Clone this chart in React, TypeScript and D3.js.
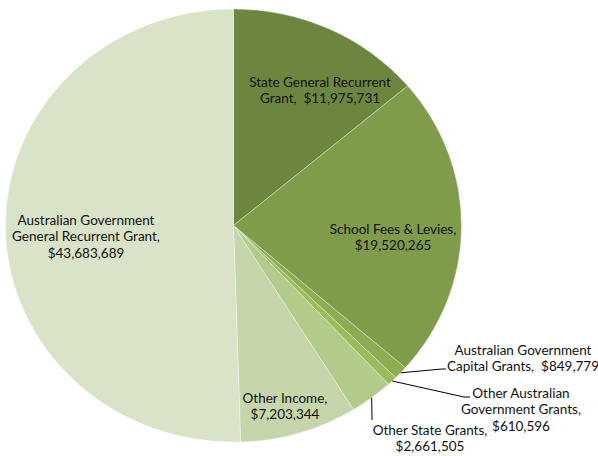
import React, { useRef, useEffect } from 'react';
import * as d3 from 'd3';

// slices, clockwise from 12 o'clock
const categories = [
  'State General Recurrent Grant',
  'School Fees & Levies',
  'Australian Government Capital Grants',
  'Other Australian Government Grants',
  'Other State Grants',
  'Other Income',
  'Australian Government General Recurrent Grant',
];
const values = [11975731, 19520265, 849779, 610596, 2661505, 7203344, 43683689];
const colors = ['#6c873d', '#7f9c4a', '#8cad52', '#9bbc5a', '#b2cb8b', '#c5d6aa', '#d8e3c7'];

// label text lines (value appended) and where they sit
const labelLines = [
  ['State General Recurrent', 'Grant,  $'],
  ['School Fees & Levies,', '$'],
  ['Australian Government', 'Capital Grants,  $'],
  ['Other Australian', 'Government Grants,', '$'],
  ['Other State Grants,', '$'],
  ['Other Income,', '$'],
  ['Australian Government', 'General Recurrent Grant,', '$'],
];
const labelPos = [
  [320, 82], [393, 229], [523, 350], [521, 393], [430, 430], [285, 398], [86, 220],
];
// leader lines: [elbow x, elbow y, end x] (null = label sits inside slice)
const leaders: (number[] | null)[] = [
  null, null, [442, 369, 446], [464, 397, 470], [372, 420, 372], null, null,
];

const W = 598, H = 456;
const cx = 233.5, cy = 225.5, rx = 228, ry = 216.6;

const App = () => {
  const svgRef = useRef<SVGSVGElement>(null);

  useEffect(() => {
    const svg = d3.select(svgRef.current);
    svg.selectAll('*').remove();

    const fmt = d3.format(',');
    const pie = d3.pie<number>().sort(null)(values);
    const arc = d3.arc<d3.PieArcDatum<number>>().innerRadius(0).outerRadius(rx);

    const g = svg.append('g')
      .attr('transform', `translate(${cx},${cy}) scale(1,${ry / rx})`);

    g.selectAll('path')
      .data(pie)
      .enter().append('path')
      .attr('d', arc)
      .attr('fill', (d, i) => colors[i])
      .attr('stroke', '#ffffff')
      .attr('stroke-width', 0.6)
      .attr('stroke-opacity', 0.6);

    // leader lines
    pie.forEach((d, i) => {
      const l = leaders[i];
      if (!l) return;
      const a = (d.startAngle + d.endAngle) / 2;
      const x0 = cx + rx * Math.sin(a);
      const y0 = cy - ry * Math.cos(a);
      svg.append('polyline')
        .attr('points', `${x0},${y0} ${l[0]},${l[1]} ${l[2]},${l[1]}`)
        .attr('fill', 'none')
        .attr('stroke', '#000')
        .attr('stroke-width', 1);
    });

    // labels
    labelLines.forEach((lines, i) => {
      const [lx, ly] = labelPos[i];
      const t = svg.append('text')
        .attr('x', lx)
        .attr('y', ly)
        .attr('text-anchor', 'middle')
        .attr('font-family', 'Lato, "Open Sans", sans-serif')
        .attr('font-size', 13.5)
        .style('white-space', 'pre')
        .attr('fill', '#111');
      lines.forEach((s, j) => {
        t.append('tspan')
          .attr('x', lx)
          .attr('dy', j === 0 ? '0.35em' : 16.6)
          .text(s.endsWith('$') ? s + fmt(values[i]) : s);
      });
    });
  }, []);

  return (
    <svg ref={svgRef} width={W} height={H}
      style={{ position: 'absolute', left: 0, top: 0, background: '#fff' }} />
  );
};

export default App;
